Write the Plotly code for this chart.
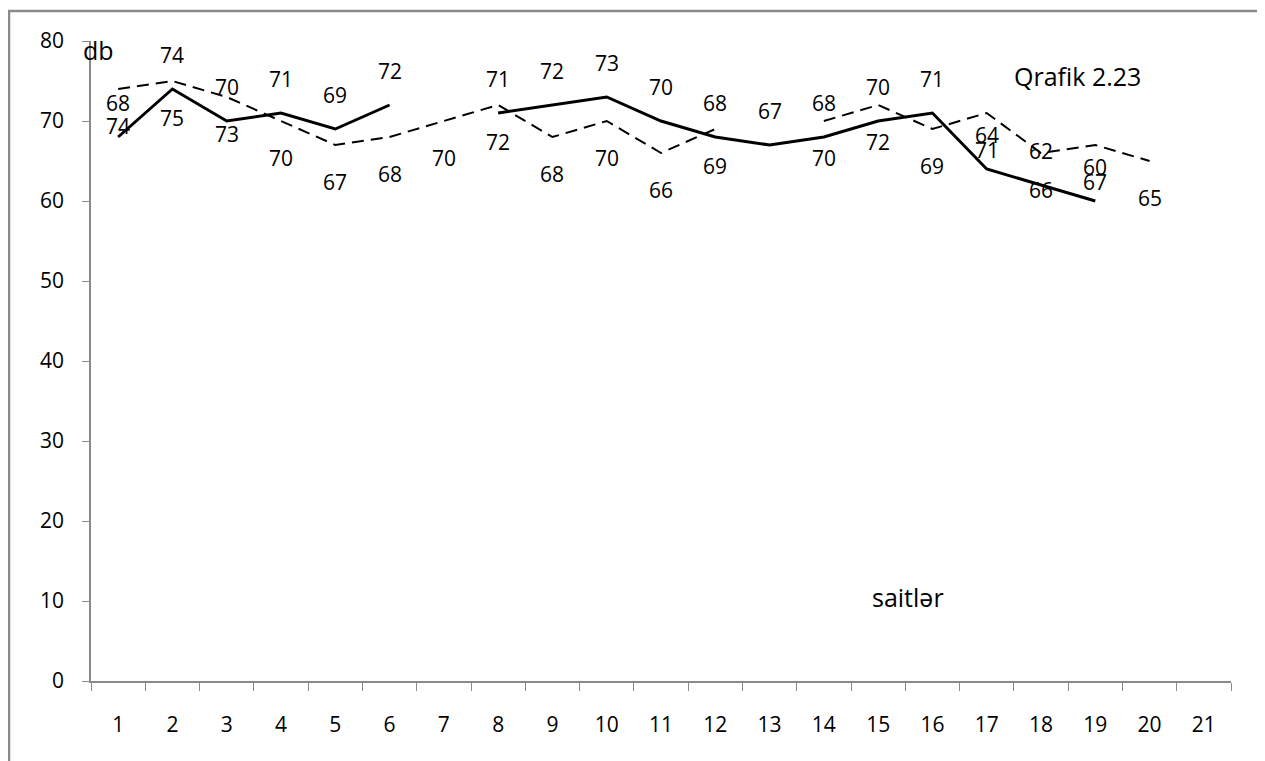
import plotly.graph_objects as go

categories = [str(i) for i in range(1, 22)]
solid_vals = [68, 74, 70, 71, 69, 72, None, 71, 72, 73, 70, 68, 67, 68, 70, 71, 64, 62, 60, None, None]
dashed_vals = [74, 75, 73, 70, 67, 68, 70, 72, 68, 70, 66, 69, None, 70, 72, 69, 71, 66, 67, 65, None]
y_ticks = [0, 10, 20, 30, 40, 50, 60, 70, 80]

FONT = "Open Sans, Calibri, Carlito, sans-serif"
FS = 21
FS_TXT = 25

# page offset (body margin) compensation
OFF = 8
W, H = 1265 - OFF, 761 - OFF
L, T = 91 - OFF, 41 - OFF
PW, PH = 1140, 640


def px_x(px):
    return (px - OFF - L) / PW


def px_y(py):
    return (T + PH - (py - OFF)) / PH


fig = go.Figure()
fig.add_trace(go.Scatter(x=categories, y=dashed_vals, mode="lines",
                         line=dict(color="black", width=2, dash="12px,7px"),
                         connectgaps=False, showlegend=False, hoverinfo="skip"))
fig.add_trace(go.Scatter(x=categories, y=solid_vals, mode="lines",
                         line=dict(color="black", width=3),
                         connectgaps=False, showlegend=False, hoverinfo="skip"))

annotations = []
for i, v in enumerate(solid_vals):
    if v is not None:
        annotations.append(dict(x=i, y=v, text=str(v), showarrow=False, yshift=34,
                                xanchor="center", yanchor="middle",
                                font=dict(family=FONT, size=FS, color="black")))
for i, v in enumerate(dashed_vals):
    if v is not None:
        annotations.append(dict(x=i, y=v, text=str(v), showarrow=False, yshift=-37,
                                xanchor="center", yanchor="middle",
                                font=dict(family=FONT, size=FS, color="black")))

for txt, cx, cy in [("db", 98, 50), ("Qrafik 2.23", 1077, 76), ("saitlər", 908, 597)]:
    annotations.append(dict(xref="paper", yref="paper", x=px_x(cx), y=px_y(cy),
                            xanchor="center", yanchor="middle",
                            text=txt, showarrow=False,
                            font=dict(family=FONT, size=FS_TXT, color="black")))

fig.update_layout(
    width=W, height=H,
    margin=dict(l=L, r=W - L - PW, t=T, b=H - T - PH),
    paper_bgcolor="white", plot_bgcolor="white",
    annotations=annotations,
    shapes=[dict(type="rect", xref="paper", yref="paper",
                 x0=px_x(9), x1=px_x(1260),
                 y0=px_y(800), y1=px_y(11),
                 line=dict(color="#8a8a8a", width=2.5), layer="above")],
    xaxis=dict(type="category", categoryorder="array", categoryarray=categories,
               range=[-0.5, 20.5], showgrid=False, zeroline=False,
               showline=True, linecolor="#8a8a8a", linewidth=1.5,
               ticks="outside", tickson="boundaries", ticklen=8, tickcolor="#8a8a8a",
               tickfont=dict(family=FONT, size=FS, color="black"), ticklabelstandoff=24),
    yaxis=dict(range=[0, 80], tickvals=y_ticks, showgrid=False, zeroline=False,
               showline=True, linecolor="#8a8a8a", linewidth=1.5,
               ticks="outside", ticklen=7, tickcolor="#8a8a8a",
               tickfont=dict(family=FONT, size=FS, color="black"), ticklabelstandoff=14),
)

fig.write_html("out.html")
